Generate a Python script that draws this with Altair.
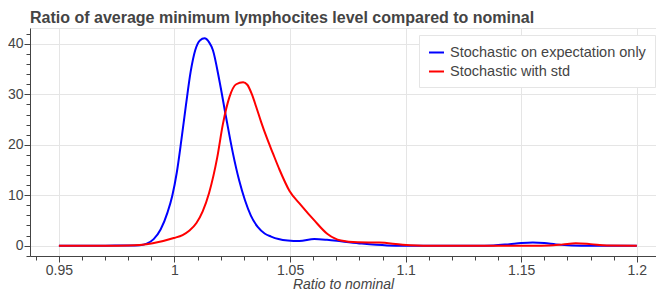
import altair as alt
import pandas as pd

series_names = ["Stochastic on expectation only", "Stochastic with std"]
series_colors = ["#0000ff", "#ff0000"]

blue_x = [0.95, 0.97, 0.98, 0.985, 0.988, 0.991, 0.994, 0.997, 0.999, 1.001, 1.003, 1.005,
          1.007, 1.009, 1.011, 1.013, 1.015, 1.0166, 1.0194, 1.0223, 1.0252, 1.028, 1.0305,
          1.033, 1.036, 1.039, 1.0418, 1.045, 1.049, 1.054, 1.0605, 1.066, 1.072, 1.081,
          1.092, 1.10, 1.13, 1.138, 1.145, 1.150, 1.155, 1.160, 1.165, 1.172, 1.18, 1.2]
blue_y = [0, 0, 0.02, 0.1, 0.4, 1.3, 3.2, 6.6, 9.8, 14.5, 21.0, 28.0,
          34.5, 38.8, 40.7, 41.1, 40.3, 38.8, 32.8, 25.5, 18.5, 12.9, 9.0,
          6.0, 3.7, 2.4, 1.8, 1.3, 1.0, 0.9, 1.3, 1.15, 0.86, 0.4,
          0.05, 0, 0, 0.05, 0.3, 0.5, 0.6, 0.5, 0.25, 0.05, 0, 0]

red_x = [0.95, 0.97, 0.98, 0.985, 0.9906, 0.9997, 1.0035, 1.0065, 1.0095, 1.0122, 1.015,
         1.0185, 1.0209, 1.0238, 1.0267, 1.0297, 1.0315, 1.0335, 1.0353, 1.0375, 1.0400,
         1.0425, 1.0454, 1.0497, 1.0548, 1.0605, 1.0662, 1.072, 1.0792, 1.0886, 1.0987,
         1.11, 1.155, 1.162, 1.168, 1.1736, 1.18, 1.187, 1.2]
red_y = [0, 0, 0.05, 0.15, 0.46, 1.5, 2.1, 3.0, 4.5, 6.8, 10.5,
         17.5, 24.0, 29.5, 32.0, 32.4, 31.9, 30.0, 27.6, 24.5, 21.3,
         18.4, 15.1, 10.9, 8.0, 5.0, 2.3, 1.0, 0.66, 0.6, 0.2,
         0, 0, 0.05, 0.25, 0.46, 0.3, 0.05, 0]

x_major = [0.95, 1.0, 1.05, 1.1, 1.15, 1.2]
x_minor = [round(0.94 + 0.01 * i, 2) for i in range(27)]
y_major = [0, 10, 20, 30, 40]
y_minor = list(range(-2, 43, 2))

df = pd.concat([
    pd.DataFrame({"x": blue_x, "y": blue_y, "series": series_names[0]}),
    pd.DataFrame({"x": red_x, "y": red_y, "series": series_names[1]}),
])

FONT = "Liberation Sans"
TXT = "#444444"

xscale = alt.Scale(domain=[0.9375, 1.2083], nice=False, zero=False)
yscale = alt.Scale(domain=[-2.055, 43.155], nice=False, zero=False)

minor = alt.Chart(df).mark_line(opacity=0).encode(
    x=alt.X("x:Q", scale=xscale,
            axis=alt.Axis(orient="bottom", values=x_minor, labels=False, grid=False,
                          domain=False, tickSize=4, tickColor=TXT, title=None)),
    y=alt.Y("y:Q", scale=yscale,
            axis=alt.Axis(orient="left", values=y_minor, labels=False, grid=False,
                          domain=False, tickSize=4, tickColor=TXT, title=None)),
    detail="series:N",
)

main = alt.Chart(df).mark_line(strokeWidth=2, interpolate="monotone").encode(
    x=alt.X("x:Q", scale=xscale,
            axis=alt.Axis(orient="bottom", values=x_major, format=".2~f", grid=True,
                          gridColor="#e5e5e5", domainColor=TXT, tickColor=TXT, tickSize=6,
                          labelColor=TXT, labelFont=FONT, labelFontSize=14, labelPadding=1,
                          title="Ratio to nominal", titleFont=FONT, titleFontSize=14,
                          titleFontStyle="italic", titleFontWeight="normal", titleColor=TXT,
                          titlePadding=0)),
    y=alt.Y("y:Q", scale=yscale,
            axis=alt.Axis(orient="left", values=y_major, format="d", grid=True,
                          gridColor="#e5e5e5", domainColor=TXT, tickColor=TXT, tickSize=6,
                          labelColor=TXT, labelFont=FONT, labelFontSize=14, labelPadding=1,
                          title=None)),
    color=alt.Color("series:N",
                    scale=alt.Scale(domain=series_names, range=series_colors),
                    legend=alt.Legend(orient="none", legendX=389, legendY=7, title=None,
                                      fillColor="white", strokeColor="#e5e5e5", padding=9,
                                      symbolType="stroke", symbolStrokeWidth=2, symbolSize=225,
                                      labelFont=FONT, labelFontSize=14.5, labelColor=TXT,
                                      labelOffset=5, rowPadding=4, labelLimit=400)),
)

chart = alt.layer(minor, main).resolve_axis(x="independent", y="independent").properties(
    width=626,
    height=228,
    autosize=alt.AutoSizeParams(type="none"),
    padding={"left": 22, "top": 20, "right": 0, "bottom": 35},
    title=alt.TitleParams("Ratio of average minimum lymphocites level compared to nominal",
                          anchor="start", frame="group", font=FONT, fontSize=16,
                          fontWeight="bold", color=TXT, offset=2),
).configure_view(stroke="#e5e5e5")

chart.save("out.html", embed_options={"renderer": "svg", "actions": False})
